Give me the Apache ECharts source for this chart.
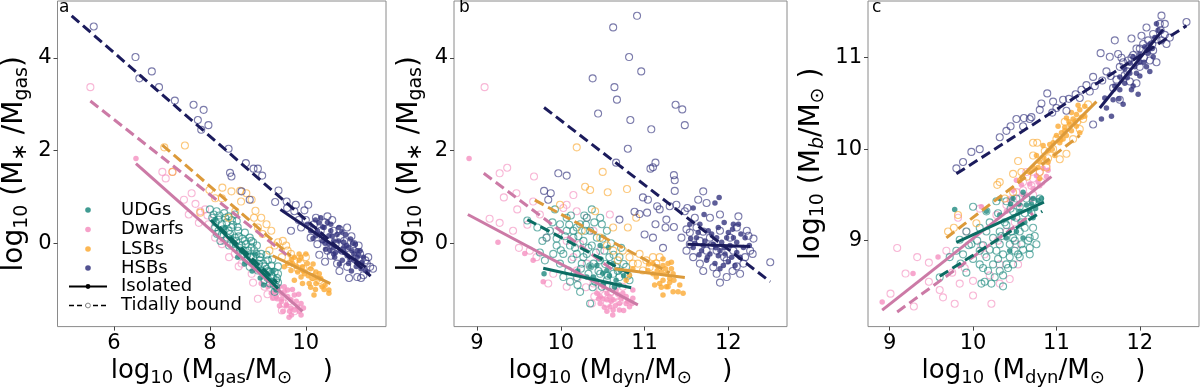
<!DOCTYPE html>
<html>
<head>
<meta charset="utf-8">
<script src="https://cdn.jsdelivr.net/npm/echarts@6/dist/echarts.min.js"></script>
<style>html,body{margin:0;padding:0;background:#fff}#c{width:1200px;height:392px}</style>
</head>
<body>
<div id="c"></div>
<script>
// ---------- categories ----------
const classes = ['UDGs', 'Dwarfs', 'LSBs', 'HSBs'];
const statusNames = ['Isolated', 'Tidally bound'];
const panelLetters = ['a', 'b', 'c'];

// ---------- tick labels ----------
const xTicksA = [6, 8, 10];
const xTicksB = [9, 10, 11, 12];
const xTicksC = [9, 10, 11, 12];
const yTicksA = [0, 2, 4];
const yTicksB = [0, 2, 4];
const yTicksC = [9, 10, 11];

// ---------- panel a: x = log Mgas, y = log(M*/Mgas) ----------
const aUDGiso = [[8.11,0.51],[8.45,0.12],[8.66,-0.16],[8.87,-0.41],[9.07,-0.62],[9.28,-0.8],[9.38,-1.01],[8.52,-0.02],[8.94,-0.23],[9.21,-0.69],[8.32,0.34],[8.76,-0.23],[9.31,-0.59],[8.58,-0.3],[8.72,-0.45],[8.88,-0.6],[9.05,-0.75],[9.12,-0.9]];
const aUDGtid = [[8.0,0.73],[8.08,0.62],[8.14,0.69],[8.18,0.51],[8.25,0.41],[8.32,0.55],[8.11,0.34],[8.39,0.27],[8.45,0.34],[8.52,0.12],[8.59,0.27],[8.49,-0.02],[8.66,-0.05],[8.73,0.05],[8.8,-0.16],[8.87,-0.09],[8.9,-0.3],[8.97,-0.23],[9.04,-0.37],[9.11,-0.44],[9.18,-0.55],[9.25,-0.62],[9.31,-0.73],[9.38,-0.8],[9.35,-0.62],[9.28,-0.48],[9.14,-0.66],[9.0,-0.59],[8.94,-0.44],[8.76,-0.37],[8.66,-0.27],[8.36,0.12],[8.25,0.19],[8.56,0.48],[8.39,0.58],[8.83,0.12],[9.21,-0.37],[9.38,-0.94],[9.25,-0.87],[9.14,-0.8],[9.07,-0.23],[8.9,0.02],[8.73,0.23],[8.52,0.62],[8.63,-0.16],[8.83,-0.51],[9.42,-0.66],[8.18,0.27],[8.05,0.55],[8.12,0.45],[8.2,0.6],[8.28,0.3],[8.35,0.45],[8.42,0.2],[8.48,0.4],[8.55,0.05],[8.6,0.15],[8.62,-0.1],[8.7,-0.15],[8.75,-0.02],[8.78,-0.25],[8.85,-0.3],[8.92,-0.15],[8.95,-0.5],[9.02,-0.45],[9.05,-0.3],[9.1,-0.6],[9.15,-0.5],[9.2,-0.75],[9.22,-0.6],[9.28,-0.7],[9.33,-0.9],[9.4,-0.75],[9.42,-0.5],[9.3,-0.35],[9.18,-0.25],[8.98,-0.05],[8.86,0.05],[8.68,0.1],[8.58,0.35],[8.46,0.5],[8.3,0.65],[8.15,0.2],[8.22,0.05],[8.4,-0.05],[9.35,-1.05],[9.42,-0.85]];
const aDwfIso = [[6.46,1.83],[9.07,-0.87],[9.21,-0.94],[9.28,-1.08],[9.42,-1.01],[9.49,-1.08],[9.55,-0.94],[9.62,-1.15],[9.69,-1.22],[9.76,-1.12],[9.83,-1.37],[9.69,-1.4],[9.59,-1.33],[9.49,-1.26],[9.38,-1.15],[9.9,-1.3],[9.62,-1.01],[9.76,-1.44],[9.45,-0.94],[9.31,-1.19],[9.86,-1.47],[9.52,-1.47],[9.66,-1.47],[9.5,-1.2],[9.6,-1.35],[9.7,-1.55],[9.8,-1.25],[9.9,-1.55],[9.45,-1.35],[9.55,-1.05],[9.72,-1.0],[9.85,-1.1],[9.4,-1.2],[9.65,-1.6],[9.95,-1.4],[9.35,-1.05]];
const aDwfTid = [[5.51,3.37],[7.22,1.54],[7.08,1.4],[7.62,1.08],[7.46,0.94],[7.8,0.69],[7.9,0.73],[7.77,0.44],[7.97,0.41],[7.56,0.62],[8.11,0.12],[8.25,-0.02],[8.52,-0.23],[8.66,-0.44],[8.87,-0.66],[9.14,-0.94],[9.35,-1.15],[9.55,-1.3],[9.76,-1.47],[7.01,1.54],[8.3,0.05],[8.6,-0.5],[8.9,-0.85],[9.2,-1.1],[9.5,-1.45],[9.65,-1.25],[7.7,0.85],[7.95,0.6],[8.4,-0.3],[9.0,-1.2]];
const aLSBiso = [[9.62,-0.44],[9.76,-0.3],[9.86,-0.37],[9.93,-0.51],[10.03,-0.44],[10.1,-0.55],[10.21,-0.62],[9.97,-0.66],[9.83,-0.62],[9.69,-0.59],[9.55,-0.51],[10.14,-0.76],[10.28,-0.66],[10.34,-0.94],[10.48,-1.01],[10.48,-1.08],[10.17,-1.12],[9.9,-0.73],[9.72,-0.44],[10.0,-0.23],[9.86,-0.23],[10.07,-0.87],[10.21,-0.87],[10.31,-0.76],[9.76,-0.8],[9.93,-0.87],[9.8,-0.5],[9.95,-0.6],[10.05,-0.7],[10.15,-0.45],[10.25,-0.75],[10.4,-0.9],[9.7,-0.35],[9.9,-0.3],[10.1,-0.95],[10.2,-1.0],[10.38,-1.0]];
const aLSBtid = [[7.05,2.07],[7.48,2.11],[7.22,1.54],[7.99,1.15],[8.26,1.2],[8.45,1.12],[8.63,1.13],[8.76,1.08],[8.87,0.94],[8.25,0.97],[8.53,0.69],[8.39,0.55],[8.92,0.55],[9.07,0.55],[9.18,0.41],[9.0,0.34],[9.28,0.27],[9.42,0.02],[9.52,0.05],[9.59,-0.05],[9.24,-0.16],[9.69,-0.23],[9.76,-0.37],[9.9,-0.44],[10.0,-0.3],[10.14,-0.73],[10.28,-0.8],[10.34,-0.87],[9.62,-0.16],[9.83,-0.55],[8.11,0.97],[7.8,0.66],[8.65,0.9],[9.35,-0.05],[9.5,-0.3],[9.65,-0.45],[9.95,-0.55],[10.1,-0.6],[9.1,0.2],[8.95,0.7]];
const aHSBiso = [[10.24,0.27],[10.38,0.34],[10.48,0.16],[10.58,0.05],[10.65,0.19],[10.79,0.02],[10.89,-0.09],[10.96,-0.16],[11.07,-0.3],[11.17,-0.41],[11.1,-0.44],[11.0,-0.37],[10.86,-0.27],[10.72,-0.16],[10.58,-0.09],[10.48,-0.02],[10.35,0.05],[10.21,0.16],[10.1,0.27],[10.27,0.44],[10.52,0.41],[10.69,0.34],[10.83,0.19],[10.93,0.09],[11.03,-0.02],[11.13,-0.16],[10.62,-0.2],[10.41,-0.13],[10.76,-0.37],[10.89,-0.44],[11.24,-0.59],[10.31,0.55],[10.03,0.41],[10.58,-0.23],[11.0,-0.23],[10.52,0.27],[10.79,-0.09],[11.07,-0.16],[10.15,0.1],[10.3,0.2],[10.4,0.0],[10.45,0.45],[10.55,0.15],[10.6,-0.3],[10.68,0.05],[10.75,0.25],[10.8,-0.2],[10.85,-0.05],[10.92,-0.35],[10.98,0.0],[11.05,-0.5],[11.1,-0.25],[11.15,-0.55],[11.2,-0.3],[10.5,-0.15],[10.7,-0.45],[10.95,-0.6],[10.35,0.35],[10.2,0.5],[11.28,-0.62]];
const aHSBtid = [[5.58,4.68],[6.45,4.02],[6.53,3.56],[6.79,3.71],[6.94,3.37],[7.27,3.08],[7.66,2.99],[7.87,2.88],[7.75,2.66],[7.97,2.55],[7.82,2.45],[8.39,2.04],[8.42,1.52],[8.45,1.44],[8.66,1.12],[8.75,1.73],[8.91,1.61],[9.0,1.61],[9.09,1.46],[8.83,0.94],[9.43,1.14],[9.36,0.89],[9.61,0.76],[9.76,0.69],[9.97,0.71],[10.05,0.83],[10.21,0.55],[10.45,0.58],[10.31,0.27],[10.58,0.27],[10.72,0.12],[10.86,0.34],[11.0,-0.02],[11.13,-0.23],[11.34,-0.51],[11.2,-0.69],[11.07,-0.73],[10.86,-0.51],[10.65,-0.44],[10.45,-0.16],[10.24,-0.02],[10.1,0.12],[9.9,0.34],[10.62,-0.02],[10.52,-0.27],[10.93,-0.23],[11.24,-0.37],[9.69,0.27],[10.17,0.41],[10.76,-0.16],[10.35,0.09],[9.79,0.83],[11.27,-0.44],[10.0,0.5],[10.15,0.3],[10.4,0.45],[10.55,0.5],[10.7,0.3],[10.8,0.05],[10.95,0.15],[11.1,-0.05],[11.3,-0.3],[11.15,-0.75],[10.9,-0.75],[10.7,-0.6],[10.4,-0.4],[10.28,-0.25],[9.85,0.5],[9.6,0.9],[11.4,-0.55]];

// ---------- panel b: x = log Mdyn, y = log(M*/Mgas) ----------
const bUDGiso = [[9.8,-0.66],[10.43,-0.48],[10.47,-0.34],[10.55,-0.59],[10.625,-0.44],[10.39,-0.73],[10.66,-0.8],[10.47,-0.05],[10.31,-0.73],[10.51,-0.87],[10.71,-0.59],[10.57,-0.09],[10.64,-0.94],[10.2,-0.6],[10.5,-0.65],[10.58,-0.7],[10.7,-0.9],[10.35,-0.5],[10.75,-0.7]];
const bUDGtid = [[9.6,0.49],[9.72,0.34],[9.83,0.12],[9.93,0.73],[9.99,0.41],[10.07,0.55],[10.15,0.27],[10.23,0.41],[10.31,0.55],[10.37,0.73],[10.47,0.55],[10.55,0.27],[10.49,0.41],[9.95,-0.05],[10.03,-0.23],[9.99,-0.44],[10.09,-0.59],[10.19,-0.73],[10.25,-0.44],[10.31,-0.23],[10.37,-0.05],[10.43,0.12],[10.11,-0.05],[10.19,-0.23],[10.27,0.05],[10.39,-0.44],[10.47,-0.66],[10.55,-0.8],[10.625,-0.94],[10.7,-0.73],[10.66,-0.51],[10.58,-0.3],[10.52,-0.16],[10.7,-0.3],[10.23,-1.05],[10.11,-0.83],[9.91,-0.23],[9.81,-0.37],[10.15,0.12],[10.35,0.27],[10.07,0.27],[9.87,0.27],[10.41,-0.83],[10.49,-0.94],[10.35,-1.3],[10.03,-0.73],[10.78,-0.51],[10.82,-0.8],[10.47,-0.37],[10.33,-0.66],[10.625,-0.66],[10.19,0.34],[10.29,0.27],[9.9,0.45],[9.95,0.1],[10.0,-0.15],[10.05,0.15],[10.1,0.4],[10.13,-0.35],[10.17,-0.1],[10.21,0.15],[10.24,-0.55],[10.27,-0.3],[10.3,0.4],[10.33,-0.1],[10.35,-0.5],[10.4,0.45],[10.42,-0.2],[10.45,-0.6],[10.5,0.1],[10.53,-0.45],[10.56,-0.7],[10.6,0.0],[10.63,-0.25],[10.68,-0.6],[10.72,-0.1],[10.75,-0.45],[10.8,-0.7],[10.2,-0.9],[10.38,-0.95],[10.28,0.6],[10.12,0.6],[9.78,0.05],[9.75,-0.2]];
const bDwfIso = [[8.905,1.83],[9.25,0.02],[9.57,-0.22],[9.67,-0.37],[9.79,-0.83],[10.47,-1.15],[10.55,-1.08],[10.625,-1.22],[10.7,-1.3],[10.78,-1.15],[10.86,-1.01],[10.585,-1.37],[10.7,-1.44],[10.82,-1.37],[10.51,-0.94],[10.66,-1.01],[10.55,-1.22],[10.78,-1.3],[10.625,-1.44],[10.47,-1.3],[10.43,-1.08],[10.74,-1.08],[10.86,-1.19],[10.55,-1.47],[10.5,-1.2],[10.58,-1.15],[10.65,-1.35],[10.72,-1.2],[10.8,-1.25],[10.6,-1.25],[10.68,-1.1],[10.52,-1.38],[10.45,-1.2],[10.85,-1.3],[10.62,-1.55],[10.75,-1.45]];
const bDwfTid = [[9.09,3.37],[9.27,1.51],[9.36,1.63],[9.32,0.99],[9.47,1.08],[9.68,1.44],[9.15,0.53],[9.27,0.44],[9.43,0.27],[9.48,0.73],[9.67,0.9],[9.75,0.62],[10.03,0.76],[10.07,0.83],[10.19,0.69],[10.31,0.55],[9.95,0.27],[10.07,0.05],[10.23,-0.02],[10.15,-0.3],[10.31,-0.44],[10.39,-0.87],[10.47,-1.01],[10.37,-1.3],[10.55,-1.3],[10.66,-1.15],[10.74,-0.94],[9.91,-0.66],[9.85,-0.87],[10.07,-0.94],[10.19,-0.59],[9.63,-0.16],[9.71,-0.3],[9.83,0.12],[10.47,-0.16],[10.585,0.62],[10.39,0.27],[10.15,1.04],[10.4,-1.15],[10.5,-1.1],[10.6,-1.05],[10.7,-1.25],[10.3,-0.95],[10.2,-0.75],[9.6,0.4],[9.5,-0.1]];
const bLSBiso = [[11.1,-0.44],[11.16,-0.51],[11.22,-0.48],[11.28,-0.44],[11.32,-0.55],[11.2,-0.62],[11.26,-0.66],[11.14,-0.73],[11.22,-0.8],[11.3,-0.76],[11.18,-0.87],[11.26,-0.94],[11.34,-1.05],[11.4,-1.05],[11.46,-1.08],[11.22,-1.12],[11.1,-0.66],[11.04,-0.59],[11.34,-0.66],[11.22,-0.34],[11.28,-0.94],[10.82,-0.69],[10.78,-0.8],[10.86,-0.55],[11.32,-0.41],[11.15,-0.6],[11.25,-0.55],[11.3,-0.85],[11.2,-0.95],[11.35,-0.8],[11.12,-0.9],[11.42,-0.9],[11.05,-0.45]];
const bLSBtid = [[10.19,2.07],[10.29,1.22],[10.35,1.15],[10.56,1.1],[10.79,1.17],[10.5,1.54],[9.99,0.83],[10.41,0.69],[10.625,0.34],[10.8,0.34],[10.9,0.55],[10.82,-0.3],[10.94,-0.23],[11.02,-0.37],[11.1,-0.3],[11.14,-0.44],[10.74,-0.16],[10.68,-0.37],[10.86,-0.44],[10.98,-0.59],[11.06,-0.52],[10.25,0.27],[10.47,0.12],[10.55,-0.05],[10.625,-0.16],[11.18,-0.3],[10.92,-0.44]];
const bHSBiso = [[11.89,0.99],[11.58,0.76],[11.84,0.87],[11.71,0.62],[11.54,0.41],[11.66,0.41],[11.76,0.27],[11.88,0.34],[12.0,0.23],[12.06,0.41],[12.12,0.41],[11.62,0.12],[11.72,0.05],[11.82,-0.02],[11.92,0.02],[12.02,-0.05],[12.1,0.02],[12.18,-0.09],[11.58,-0.09],[11.68,-0.16],[11.78,-0.23],[11.88,-0.27],[11.96,-0.23],[12.04,-0.3],[12.14,-0.3],[11.74,-0.37],[11.84,-0.44],[11.94,-0.48],[12.08,-0.48],[11.86,0.12],[11.98,0.12],[12.06,0.12],[11.64,0.23],[11.9,-0.16],[12.2,0.12],[11.6,0.0],[11.7,-0.05],[11.8,0.2],[11.85,-0.1],[11.95,-0.1],[12.0,-0.4],[12.1,-0.2],[12.15,0.2],[11.75,-0.3],[11.9,-0.55],[12.05,0.3],[11.65,-0.25],[11.95,0.45],[12.25,-0.05],[11.55,0.1]];
const bHSBtid = [[10.91,4.91],[10.625,4.66],[10.815,4.02],[10.96,3.71],[10.38,3.56],[10.64,3.37],[10.67,3.1],[10.445,2.8],[10.83,2.66],[11.37,2.99],[11.45,2.89],[11.48,2.55],[11.08,2.46],[10.8,2.04],[10.66,1.74],[11.07,1.61],[11.13,1.74],[11.1,1.64],[11.35,1.47],[11.36,1.36],[11.36,1.13],[9.97,1.51],[10.07,1.46],[9.8,1.13],[9.88,1.08],[9.85,0.94],[10.98,0.99],[11.04,0.94],[11.15,0.8],[11.18,0.73],[11.03,0.66],[10.94,0.63],[10.88,0.68],[11.7,1.12],[11.64,0.94],[11.74,0.87],[11.51,0.76],[11.48,0.69],[11.38,0.83],[11.3,0.8],[10.7,0.51],[11.13,0.41],[11.26,0.51],[11.25,0.34],[11.0,0.19],[11.1,0.12],[11.22,-0.1],[11.35,0.35],[11.44,0.12],[12.12,0.58],[12.1,0.34],[12.22,0.27],[12.24,0.16],[12.29,-0.23],[12.5,-0.41],[12.14,-0.66],[11.98,-0.73],[11.86,-0.66],[11.82,-0.52],[11.66,-0.44],[11.58,-0.3],[11.5,-0.16],[11.54,-0.02],[11.66,0.05],[11.78,0.12],[11.9,0.27],[12.02,0.12],[12.06,-0.16],[11.98,-0.37],[12.18,-0.44],[12.26,-0.16],[11.86,-0.16],[11.74,-0.16],[11.62,0.34],[11.78,0.55],[11.9,0.62],[11.54,0.23],[11.6,0.55],[11.7,0.25],[11.8,-0.05],[11.95,-0.3],[12.1,-0.5],[12.2,-0.3],[11.5,0.3],[11.9,-0.85],[12.05,-0.6],[11.7,-0.6],[12.3,0.1]];

// ---------- panel c: x = log Mdyn, y = log Mb ----------
const cUDGiso = [[9.78,9.34],[10.16,9.32],[10.32,9.46],[10.48,9.46],[10.56,9.32],[10.64,9.39],[10.72,9.46],[10.78,9.44],[10.82,9.46],[10.52,9.1],[10.4,9.03],[10.68,9.32],[10.6,9.53],[10.48,9.25],[10.32,9.28],[10.72,9.25],[10.44,8.89],[10.6,9.03],[10.55,9.4],[10.62,9.2],[10.75,9.35],[10.45,9.4],[10.7,9.4]];
const cUDGtid = [[9.6,8.6],[9.72,8.82],[9.8,8.89],[9.88,8.85],[9.92,8.65],[10.0,9.37],[9.98,8.96],[10.08,8.89],[10.1,8.53],[10.16,8.82],[10.18,8.67],[10.24,8.74],[10.28,8.89],[10.32,8.96],[10.36,8.85],[10.4,8.74],[10.44,8.82],[10.48,9.03],[10.32,9.1],[10.4,9.17],[10.52,9.25],[10.56,9.1],[10.62,9.14],[10.68,9.03],[10.72,9.14],[10.68,8.92],[10.58,8.96],[10.5,8.89],[10.24,9.03],[10.16,9.1],[10.08,9.14],[10.16,9.32],[10.28,9.43],[10.4,9.43],[10.48,9.32],[10.36,8.62],[10.22,8.53],[10.32,8.67],[10.76,8.96],[10.68,8.85],[10.48,8.74],[10.56,8.82],[10.44,8.96],[9.84,9.01],[10.08,8.74],[9.92,9.1],[10.52,9.46],[10.64,9.46],[10.56,9.37],[10.72,9.43],[10.8,9.46],[10.0,8.8],[10.05,9.0],[10.12,8.95],[10.2,8.9],[10.26,8.6],[10.3,8.8],[10.34,9.05],[10.38,9.2],[10.42,8.7],[10.46,9.1],[10.5,9.0],[10.54,8.85],[10.58,9.2],[10.62,9.3],[10.66,9.0],[10.7,9.3],[10.74,9.05],[10.3,9.3],[10.2,9.2],[10.12,8.7],[9.95,8.95],[9.85,8.75],[10.45,9.35],[10.6,8.9],[10.36,8.5],[10.14,8.55]];
const cDwfIso = [[8.91,8.33],[9.28,8.64],[9.58,8.82],[10.1,9.37],[10.48,9.55],[10.58,9.61],[10.68,9.62],[10.76,9.71],[10.84,9.79],[10.9,9.77],[10.64,9.5],[10.72,9.57],[10.78,9.64],[10.88,9.7],[10.56,9.39],[10.4,9.32],[10.52,9.66],[10.6,9.5],[10.7,9.45],[10.8,9.6],[10.45,9.45]];
const cDwfTid = [[9.09,8.92],[9.19,8.64],[9.01,8.42],[9.33,8.82],[9.47,8.76],[9.47,8.55],[9.6,8.46],[9.64,8.38],[9.78,8.31],[10.22,8.31],[9.29,8.28],[10.0,8.56],[10.2,8.62],[10.44,8.58],[10.32,8.53],[10.54,8.74],[10.52,8.96],[10.4,9.1],[10.28,9.28],[10.4,9.39],[10.52,9.53],[10.6,9.64],[10.72,9.68],[10.8,9.75],[10.88,9.82],[10.64,9.75],[10.56,9.46],[10.72,9.5],[10.08,9.35],[9.92,9.1],[9.82,9.25],[10.32,8.74],[9.68,8.89],[9.84,8.53],[10.14,8.85],[10.82,9.64],[10.45,9.45],[10.6,9.55],[10.7,9.6],[10.5,9.2],[10.3,9.0],[10.1,8.95],[9.9,8.7],[10.0,8.4],[9.75,8.65]];
const cLSBiso = [[10.56,9.66],[10.68,9.75],[10.72,9.8],[10.8,9.86],[10.76,9.93],[10.84,10.04],[10.9,9.98],[10.96,10.07],[11.0,10.15],[11.06,10.18],[11.1,10.24],[11.16,10.27],[11.2,10.33],[11.24,10.38],[11.28,10.43],[11.34,10.47],[11.18,10.2],[11.12,10.15],[11.04,10.07],[10.98,9.93],[11.12,10.34],[11.24,10.25],[11.34,10.36],[11.18,10.4],[11.08,10.11],[10.9,9.86],[10.8,9.68],[11.28,10.18],[11.02,10.25],[10.85,9.9],[10.95,10.0],[11.05,10.1],[11.15,10.3],[11.22,10.3],[11.3,10.35],[10.78,9.8],[10.92,10.05],[11.1,10.2],[11.26,10.48]];
const cLSBtid = [[9.7,9.1],[9.77,9.14],[9.82,9.28],[10.04,9.19],[10.32,9.64],[10.29,9.61],[10.48,9.73],[10.54,9.87],[10.72,10.07],[10.77,10.07],[10.88,9.8],[11.04,9.89],[11.12,9.95],[11.0,10.11],[11.2,10.11],[11.28,10.22],[11.32,10.33],[11.38,10.49],[10.58,9.75],[10.8,9.75],[10.96,10.0],[10.72,9.93],[10.86,9.98],[10.48,9.53],[10.38,9.46],[11.1,10.3],[11.25,10.3],[10.9,9.9],[10.65,9.7]];
const cHSBiso = [[11.6,10.45],[11.54,10.33],[11.68,10.54],[11.76,10.65],[11.82,10.72],[11.76,10.79],[11.82,10.88],[11.88,10.94],[11.94,10.9],[11.92,11.01],[12.0,11.04],[12.06,11.12],[12.12,11.15],[12.18,11.22],[12.22,11.3],[12.16,11.01],[12.08,10.9],[11.96,10.83],[11.88,10.83],[11.7,10.69],[11.92,10.69],[11.8,10.49],[11.66,10.36],[11.58,10.56],[12.0,10.95],[12.2,11.37],[11.85,10.78],[11.9,10.65],[12.0,10.8],[12.05,10.95],[12.1,11.05],[12.15,11.1],[11.98,10.6],[11.75,10.55],[12.12,10.85]];
const cHSBtid = [[9.8,9.79],[9.88,9.86],[9.98,9.97],[10.08,10.0],[10.32,10.13],[10.45,10.25],[10.52,10.33],[10.61,10.34],[10.68,10.33],[10.8,10.43],[10.82,10.5],[10.89,10.61],[10.96,10.52],[11.0,10.45],[11.08,10.54],[11.12,10.42],[11.23,10.6],[11.28,10.56],[11.36,10.7],[11.4,10.63],[11.46,10.69],[11.44,10.79],[11.53,11.05],[11.64,11.01],[11.74,11.04],[11.6,10.85],[11.76,10.9],[11.86,10.97],[11.92,11.03],[11.96,11.1],[12.04,11.15],[12.1,11.19],[12.16,11.26],[12.24,11.37],[12.26,11.46],[12.3,11.37],[12.56,11.39],[12.36,11.22],[12.32,11.15],[12.16,11.08],[12.02,11.24],[11.88,10.74],[11.76,10.54],[11.68,10.67],[11.44,10.27],[11.9,11.21],[12.08,11.33],[12.2,10.95],[12.0,10.9],[11.82,10.81],[11.72,10.76],[11.96,10.72],[12.12,10.97],[11.7,11.19],[12.26,11.19],[11.8,10.95],[11.85,10.85],[11.9,11.0],[11.95,10.95],[12.0,11.1],[12.05,11.0],[12.1,11.1],[12.15,11.15],[12.2,11.2],[12.25,11.3],[12.3,11.25],[11.78,11.0],[11.65,10.8],[11.55,10.75],[11.3,10.65],[11.15,10.55],[10.95,10.4],[10.7,10.35],[10.6,10.25],[10.4,10.2]];

// ---------- fit lines (end points) ----------
const fitA_UDG_iso = [[8.02,0.5],[9.42,-0.98]];
const fitA_UDG_tid = [[8.2,0.35],[9.4,-0.85]];
const fitA_Dwf_iso = [[6.46,1.72],[9.93,-1.47]];
const fitA_Dwf_tid = [[5.51,3.07],[9.6,-0.25]];
const fitA_LSB_iso = [[9.31,-0.27],[10.51,-0.87]];
const fitA_LSB_tid = [[7.01,2.12],[9.69,-0.28]];
const fitA_HSB_iso = [[9.47,0.73],[11.25,-0.52]];
const fitA_HSB_tid = [[5.12,4.91],[11.35,-0.71]];

const fitB_UDG_iso = [[9.79,-0.54],[10.84,-0.96]];
const fitB_UDG_tid = [[9.6,0.51],[10.82,-0.66]];
const fitB_Dwf_iso = [[8.89,0.62],[10.92,-1.33]];
const fitB_Dwf_tid = [[9.08,1.51],[10.65,-0.62]];
const fitB_LSB_iso = [[10.64,-0.55],[11.48,-0.74]];
const fitB_LSB_tid = [[9.69,0.93],[11.3,-0.64]];
const fitB_HSB_iso = [[11.51,-0.02],[12.26,-0.07]];
const fitB_HSB_tid = [[9.8,2.93],[12.5,-0.83]];

const fitC_UDG_iso = [[9.8,8.98],[10.85,9.42]];
const fitC_UDG_tid = [[9.6,8.61],[10.83,9.32]];
const fitC_Dwf_iso = [[8.91,8.24],[10.94,9.7]];
const fitC_Dwf_tid = [[9.09,8.22],[10.72,9.3]];
const fitC_LSB_iso = [[10.56,9.68],[11.48,10.52]];
const fitC_LSB_tid = [[9.68,9.03],[11.28,10.15]];
const fitC_HSB_iso = [[11.52,10.45],[12.28,11.31]];
const fitC_HSB_tid = [[9.8,9.73],[12.56,11.35]];

// ---------- styles ----------
const pointColors = {UDGs:'#1f8a7f', Dwarfs:'#f590c0', LSBs:'#fbaa35', HSBs:'#34347e'};
const lineColors  = {UDGs:'#0b6c63', Dwarfs:'#cc7aa6', LSBs:'#dc9a3a', HSBs:'#1b1b5c'};
const FONT = 'DejaVu Sans';

const pts = [
  {UDGs:[aUDGiso,aUDGtid], Dwarfs:[aDwfIso,aDwfTid], LSBs:[aLSBiso,aLSBtid], HSBs:[aHSBiso,aHSBtid]},
  {UDGs:[bUDGiso,bUDGtid], Dwarfs:[bDwfIso,bDwfTid], LSBs:[bLSBiso,bLSBtid], HSBs:[bHSBiso,bHSBtid]},
  {UDGs:[cUDGiso,cUDGtid], Dwarfs:[cDwfIso,cDwfTid], LSBs:[cLSBiso,cLSBtid], HSBs:[cHSBiso,cHSBtid]}
];
const fits = [
  {UDGs:[fitA_UDG_iso,fitA_UDG_tid], Dwarfs:[fitA_Dwf_iso,fitA_Dwf_tid], LSBs:[fitA_LSB_iso,fitA_LSB_tid], HSBs:[fitA_HSB_iso,fitA_HSB_tid]},
  {UDGs:[fitB_UDG_iso,fitB_UDG_tid], Dwarfs:[fitB_Dwf_iso,fitB_Dwf_tid], LSBs:[fitB_LSB_iso,fitB_LSB_tid], HSBs:[fitB_HSB_iso,fitB_HSB_tid]},
  {UDGs:[fitC_UDG_iso,fitC_UDG_tid], Dwarfs:[fitC_Dwf_iso,fitC_Dwf_tid], LSBs:[fitC_LSB_iso,fitC_LSB_tid], HSBs:[fitC_HSB_iso,fitC_HSB_tid]}
];

const grids = [
  {left:54, top:1, width:332, height:329},
  {left:454, top:1, width:333, height:329},
  {left:868, top:1, width:331, height:329}
];
const xRanges = [[4.825,11.67],[8.725,12.70],[8.74,12.71]];
const yRanges = [[-1.80,5.23],[-1.80,5.23],[8.06,11.62]];
const xTicks = [xTicksA, xTicksB, xTicksC];
const yTicks = [yTicksA, yTicksB, yTicksC];

const richX = {
  m:{fontFamily:FONT, fontSize:26, lineHeight:31, color:'#000'},
  s:{fontFamily:FONT, fontSize:18, lineHeight:13, verticalAlign:'bottom', color:'#000'}
};
const richY = {
  m:{fontFamily:FONT, fontSize:28, lineHeight:33, color:'#000'},
  s:{fontFamily:FONT, fontSize:19, lineHeight:14, verticalAlign:'bottom', color:'#000'},
  si:{fontFamily:FONT, fontSize:19, lineHeight:14, verticalAlign:'bottom', fontStyle:'italic', color:'#000'},
  st:{fontFamily:FONT, fontSize:21, lineHeight:21, verticalAlign:'bottom', color:'#000'}
};
const xNames = [
  '{m|log}{s|10}{m| (M}{s|gas}{m|/M}{s|⊙ }{m|   )}',
  '{m|log}{s|10}{m| (M}{s|dyn}{m|/M}{s|⊙ }{m|   )}',
  '{m|log}{s|10}{m| (M}{s|dyn}{m|/M}{s|⊙ }{m|   )}'
];
const yNames = [
  '{m|log}{s|10}{m| (M}{st|∗}{m| /M}{s|gas}{m|)}',
  '{m|log}{s|10}{m| (M}{st|∗}{m| /M}{s|gas}{m|)}',
  '{m|log}{s|10}{m| (M}{si|b}{m|/M}{s|⊙}{m| )}'
];
const yNameGaps = [26, 28, 40];

const xAxis = [], yAxis = [], series = [];
for (let p = 0; p < 3; p++) {
  xAxis.push({
    type:'value', gridIndex:p, min:xRanges[p][0], max:xRanges[p][1],
    axisLine:{show:false, onZero:false},
    axisTick:{show:true, length:4, lineStyle:{color:'#444', width:1}, customValues:xTicks[p]},
    axisLabel:{fontFamily:FONT, fontSize:21, color:'#000', margin:6, customValues:xTicks[p]},
    splitLine:{show:false},
    name:xNames[p], nameLocation:'middle', nameGap:27, nameTextStyle:{rich:richX}
  });
  yAxis.push({
    type:'value', gridIndex:p, min:yRanges[p][0], max:yRanges[p][1],
    axisLine:{show:false, onZero:false},
    axisTick:{show:true, length:4, lineStyle:{color:'#444', width:1}, customValues:yTicks[p]},
    axisLabel:{fontFamily:FONT, fontSize:21, color:'#000', margin:6, customValues:yTicks[p]},
    splitLine:{show:false},
    name:yNames[p], nameLocation:'middle', nameGap:yNameGaps[p], nameRotate:90, nameTextStyle:{rich:richY}
  });
  const order = ['Dwarfs','UDGs','LSBs','HSBs'];
  order.forEach(cls => {
    const [iso, tid] = pts[p][cls];
    series.push({
      type:'scatter', xAxisIndex:p, yAxisIndex:p, data:tid, symbol:'circle', symbolSize:7, z:2,
      itemStyle:{color:'rgba(255,255,255,0)', borderColor:pointColors[cls], borderWidth:1.1, opacity:0.65},
      silent:true
    });
    series.push({
      type:'scatter', xAxisIndex:p, yAxisIndex:p, data:iso, symbol:'circle', symbolSize:5.5, z:2,
      itemStyle:{color:pointColors[cls], opacity:0.8},
      silent:true
    });
  });
  order.forEach(cls => {
    const [fIso, fTid] = fits[p][cls];
    series.push({
      type:'line', xAxisIndex:p, yAxisIndex:p, data:fIso, symbol:'none', z:5, silent:true,
      lineStyle:{color:lineColors[cls], width:3, type:'solid', cap:'butt'}
    });
    series.push({
      type:'line', xAxisIndex:p, yAxisIndex:p, data:fTid, symbol:'none', z:5, silent:true,
      lineStyle:{color:lineColors[cls], width:3, type:[10,5], cap:'butt'}
    });
  });
}

// legend (inside panel a) and panel letters
const graphic = [];
const legY = [210, 229.5, 249, 268];
classes.forEach((cls, i) => {
  graphic.push({type:'circle', shape:{cx:88, cy:legY[i], r:2.8}, style:{fill:pointColors[cls], opacity:0.85}, z:10});
  graphic.push({type:'text', x:121, y:legY[i], style:{text:cls, font:'18px "DejaVu Sans"', fill:'#000', textVerticalAlign:'middle'}, z:10});
});
graphic.push({type:'line', shape:{x1:69, y1:286.5, x2:107, y2:286.5}, style:{stroke:'#000', lineWidth:2}, z:10});
graphic.push({type:'circle', shape:{cx:88, cy:286.5, r:2.4}, style:{fill:'#000'}, z:11});
graphic.push({type:'text', x:121, y:286.5, style:{text:statusNames[0], font:'18px "DejaVu Sans"', fill:'#000', textVerticalAlign:'middle'}, z:10});
graphic.push({type:'line', shape:{x1:69, y1:305.5, x2:107, y2:305.5}, style:{stroke:'#000', lineWidth:1.5, lineDash:[5,3]}, z:10});
graphic.push({type:'circle', shape:{cx:88, cy:305.5, r:2.4}, style:{fill:'#fff', stroke:'#888', lineWidth:1}, z:11});
graphic.push({type:'text', x:121, y:305.5, style:{text:statusNames[1], font:'18px "DejaVu Sans"', fill:'#000', textVerticalAlign:'middle'}, z:10});
const letterX = [59, 459, 872];
panelLetters.forEach((l, i) => {
  graphic.push({type:'text', x:letterX[i], y:8, style:{text:l, font:'17px "DejaVu Sans"', fill:'#000', textVerticalAlign:'middle'}, z:10});
});

const chart = echarts.init(document.getElementById('c'), null, {renderer:'canvas'});
chart.setOption({
  animation:false,
  backgroundColor:'#fff',
  grid: grids.map(g => Object.assign({show:true, borderColor:'#8a8a8a', borderWidth:1, backgroundColor:'rgba(0,0,0,0)'}, g)),
  xAxis, yAxis, series, graphic
});
</script>
</body>
</html>
